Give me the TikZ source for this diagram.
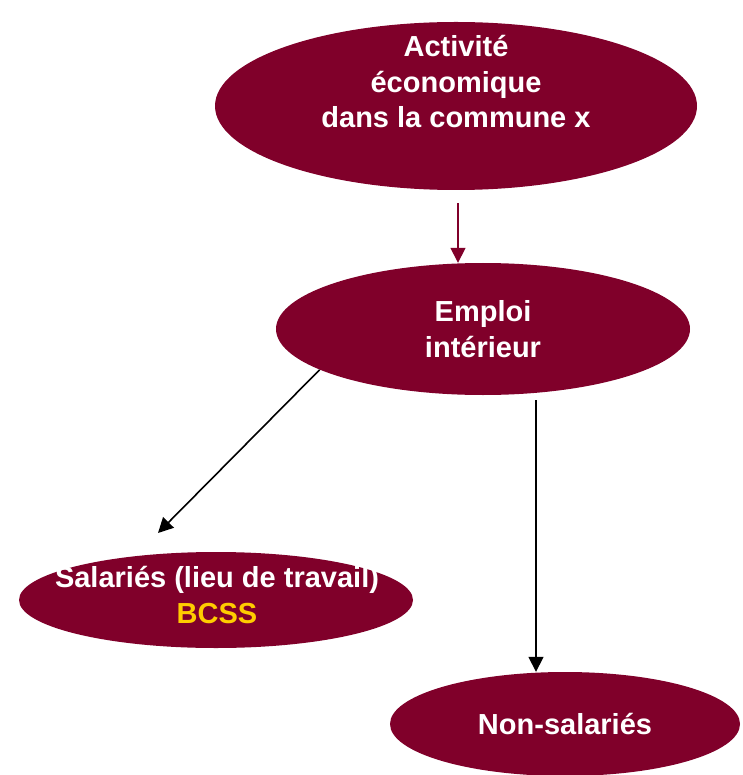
\documentclass[tikz,border=0pt]{standalone}
\usepackage{fontspec}
\setmainfont{Liberation Sans}
\usetikzlibrary{shapes,arrows.meta,positioning}
\definecolor{bordeaux}{RGB}{128,0,42}
\definecolor{jaune}{RGB}{255,204,0}
\tikzset{
      bulle/.style   = {ellipse, fill=bordeaux, inner sep=0pt},
      texte/.style   = {text=white, align=center, font=\bfseries\fontsize{29}{35.5}\selectfont},
      lien/.style    = {black, line width=1.6pt, -{Triangle[length=15pt,width=15pt]}},
      lienrouge/.style = {lien, bordeaux},
    }

\begin{document}
\begin{tikzpicture}[x=1pt, y=1pt]
    \useasboundingbox (0,0) rectangle (742,-775);
    \node [bulle, minimum width=482, minimum height=168] (act) at (456,-106) {};
    \node [texte] (acttxt) at (456,-82) {Activité\\économique\\dans la commune x};
    \node [bulle, texte, minimum width=414, minimum height=132] (emp) at (483,-329) {Emploi\\intérieur};
    \node [bulle, minimum width=394, minimum height=96] (sal) at (216,-600) {};
    \node [texte] (saltxt) at (217,-595) {Salariés (lieu de travail)\\\textcolor{jaune}{BCSS}};
    \node [bulle, texte, minimum width=350, minimum height=104] (nonsal) at (565,-724) {Non-salariés};

    \draw [lienrouge] ([xshift=2,yshift=-13]act.south) -- ([xshift=-25]emp.north);
    \draw [lien] (emp.194) -- ([shift={(-58,67)}]sal.center);
    \draw [lien] ([xshift=53,yshift=-5]emp.south) -- ([xshift=-29]nonsal.north);
\end{tikzpicture}
\end{document}
